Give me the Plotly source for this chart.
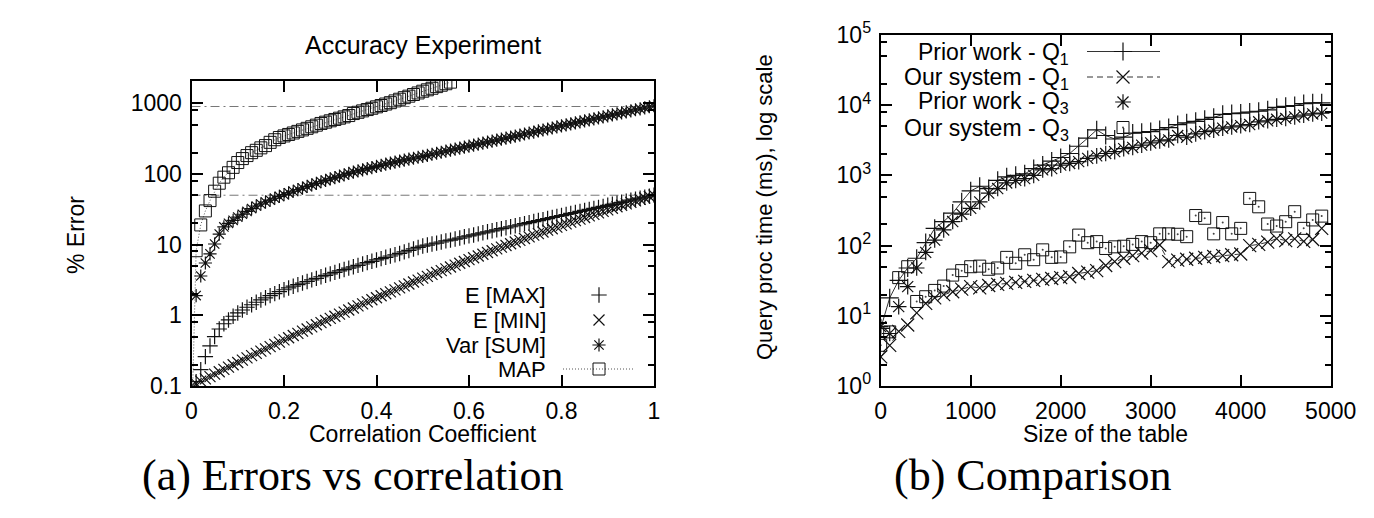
import plotly.graph_objects as go

W, H = 1374, 518
def px(x): return x / W
def py(y): return 1 - y / H

# ---------------- Left chart data (a) ----------------
CORR_MAX = [round(0.01 * i, 2) for i in range(1, 101)]
E_MAX = [0.115, 0.17, 0.26, 0.37, 0.5, 0.64, 0.76, 0.86, 0.97, 1.08,
         1.19, 1.3, 1.41, 1.53, 1.65, 1.77, 1.9, 2.03, 2.16, 2.3,
         2.44, 2.58, 2.72, 2.86, 3.01, 3.17, 3.33, 3.51, 3.68, 3.86,
         4.05, 4.24, 4.44, 4.65, 4.86, 5.09, 5.32, 5.56, 5.81, 6.07,
         6.34, 6.62, 6.9, 7.19, 7.5, 7.89, 8.28, 8.69, 9.12, 9.55,
         9.87, 10.2, 10.5, 10.9, 11.3, 11.6, 12.0, 12.4, 12.9, 13.3,
         13.7, 14.2, 14.7, 15.2, 15.7, 16.2, 16.8, 17.3, 17.9, 18.5,
         19.1, 19.8, 20.5, 21.2, 21.9, 22.6, 23.4, 24.2, 25.0, 25.8,
         26.7, 27.6, 28.5, 29.5, 30.5, 31.5, 32.6, 33.7, 34.8, 36.0,
         37.2, 38.5, 39.7, 41.1, 42.5, 43.9, 45.4, 46.9, 48.5, 50.1]

CORR_MIN = [round(0.01 * i, 2) for i in range(0, 101)]
E_MIN = [0.100,
         0.108, 0.117, 0.126, 0.136, 0.147, 0.159, 0.172, 0.185, 0.200, 0.215,
         0.232, 0.250, 0.269, 0.290, 0.312, 0.336, 0.361, 0.388, 0.418, 0.449,
         0.482, 0.518, 0.556, 0.597, 0.640, 0.687, 0.736, 0.789, 0.845, 0.906,
         0.970, 1.04, 1.11, 1.19, 1.27, 1.36, 1.45, 1.55, 1.66, 1.77,
         1.89, 2.02, 2.15, 2.29, 2.44, 2.61, 2.77, 2.96, 3.15, 3.35,
         3.56, 3.79, 4.03, 4.29, 4.55, 4.83, 5.14, 5.45, 5.78, 6.14,
         6.52, 6.90, 7.31, 7.74, 8.20, 8.69, 9.20, 9.73, 10.3, 10.9,
         11.5, 12.2, 12.9, 13.6, 14.3, 15.1, 16.0, 16.8, 17.7, 18.7,
         19.7, 20.8, 21.9, 23.0, 24.2, 25.5, 26.8, 28.2, 29.6, 31.1,
         32.7, 34.4, 36.1, 37.8, 39.6, 41.6, 43.6, 45.7, 47.9, 50.1]

CORR_VAR = [round(0.01 * i, 2) for i in range(1, 101)]
VAR_SUM = [1.9, 3.6, 5.5, 7.4, 10.2, 14.1, 17.8, 20.0, 22.1, 24.5,
           26.9, 29.5, 32.4, 35.2, 37.6, 40.1, 42.7, 45.3, 48.1, 50.9,
           54.0, 56.9, 60.0, 63.1, 66.5, 70.0, 73.6, 77.6, 81.3, 85.1,
           88.9, 92.9, 97.3, 101.6, 106.2, 110.2, 114.3, 118.6, 123.0, 127.6,
           132.4, 137.4, 142.2, 146.9, 151.7, 156.7, 161.8, 166.7, 172.2, 177.8,
           183.7, 190.1, 196.3, 202.8, 209.9, 216.8, 223.9, 231.2, 239.3, 247.2,
           255.3, 264.2, 272.9, 281.8, 291.7, 301.3, 311.2, 321.4, 332.7, 343.6,
           354.8, 367.3, 379.3, 391.7, 405.5, 418.8, 432.5, 446.7, 462.4, 477.5,
           493.2, 510.5, 527.2, 544.5, 562.3, 582.1, 601.2, 620.9, 642.7, 663.7,
           685.5, 709.6, 732.8, 756.8, 781.6, 809.1, 835.6, 863.0, 893.3, 922.5]

CORR_MAP = [round(0.01 * i, 2) for i in range(0, 57)]
MAP = [0.02, 8.2, 19, 30, 42, 57, 74, 90, 104, 124,
       145, 165, 182, 200, 216, 234, 252, 280, 305, 328,
       345, 362, 380, 400, 420, 442, 465, 490, 518, 540,
       565, 590, 615, 642, 670, 715, 745, 780, 815, 850,
       890, 930, 975, 1020, 1080, 1140, 1200, 1260, 1330, 1400,
       1480, 1550, 1630, 1720, 1800, 1890, 1990]

REF_LEVELS = [900, 50]

LEFT_XTICKS = [0, 0.2, 0.4, 0.6, 0.8, 1]
LEFT_XTEXT = ["0", "0.2", "0.4", "0.6", "0.8", "1"]
LEFT_YTICKS = [0.1, 1, 10, 100, 1000]
LEFT_YTEXT = ["0.1", "1", "10", "100", "1000"]
LEFT_YMINOR = [0.2, 0.5, 0.8, 2, 5, 8, 20, 50, 80, 200, 500, 800]

# ---------------- Right chart data (b) ----------------
SIZES = list(range(0, 5000, 100))
PRIOR_Q1 = [6.6, 18, 32, 48, 66, 110, 176, 220, 290, 420,
            600, 700, 650, 850, 950, 1000, 1050, 1250, 1400, 1600,
            1800, 2050, 2600, 3400, 4450, 3700, 3300, 3500, 4000, 4100,
            4200, 4500, 4800, 5300, 5600, 5900, 6300, 6700, 7400, 7600,
            7700, 8000, 8200, 8600, 9300, 9600, 9900, 10500, 10800, 10800]
OUR_Q1 = [2.6, 3.8, 6, 7.4, 11, 15, 18, 20, 22, 24,
          26, 25, 27, 28, 29, 30, 31, 32, 33, 34,
          35, 36, 40, 42, 44, 52, 59, 66, 72, 78,
          85, 102, 59, 62, 64, 66, 68, 70, 72, 74,
          76, 100, 104, 112, 126, 118, 125, 115, 122, 176]
PRIOR_Q3 = [7, 5.6, 13.5, 26, 48, 80, 120, 167, 220, 280,
            340, 420, 560, 650, 780, 850, 900, 1000, 1200, 1250,
            1400, 1480, 1570, 1750, 1900, 2050, 2180, 2400, 2500, 2700,
            2900, 3100, 3200, 3700, 3500, 3900, 4200, 4400, 4700, 4900,
            5100, 5300, 5800, 6000, 6300, 6500, 6800, 7200, 7500, 7700]
OUR_Q3 = [3.8, 5.9, 35, 50, 16, 18.7, 23, 26.5, 38, 44,
          50, 51, 46, 48, 68, 56, 74, 63, 87, 68,
          69, 96, 141, 110, 114, 91, 96, 98, 104, 114,
          110, 147, 147, 145, 134, 268, 245, 147, 213, 147,
          176, 470, 357, 203, 190, 219, 304, 176, 232, 263]

RIGHT_XTICKS = [0, 1000, 2000, 3000, 4000, 5000]
RIGHT_XTEXT = ["0", "1000", "2000", "3000", "4000", "5000"]
RIGHT_YTICKS = [1, 10, 100, 1000, 10000, 100000]
RIGHT_YTEXT = ["10<sup>0</sup>", "10<sup>1</sup>", "10<sup>2</sup>",
               "10<sup>3</sup>", "10<sup>4</sup>", "10<sup>5</sup>"]
RIGHT_YMINOR = [2, 5, 8, 20, 50, 80, 200, 500, 800, 2000, 5000, 8000, 20000, 50000, 80000]

FONT = "Liberation Sans"
INK = "#111111"

fig = go.Figure()

def mk(symbol, size, lw=1.2):
    return dict(symbol=symbol, size=size, color=INK, line=dict(color=INK, width=lw))

DOT = dict(symbol="circle", size=2, color="#444444", line=dict(width=0))

# left traces
for lvl in REF_LEVELS:
    fig.add_trace(go.Scatter(x=[0, 1], y=[lvl, lvl], mode="lines",
                             line=dict(color="#777777", width=1, dash="9px,4px,2px,4px"),
                             xaxis="x", yaxis="y", showlegend=False, hoverinfo="skip"))
fig.add_trace(go.Scatter(x=CORR_MAX, y=E_MAX, mode="markers", marker=mk("cross-thin-open", 11),
                         xaxis="x", yaxis="y", showlegend=False))
fig.add_trace(go.Scatter(x=CORR_MIN, y=E_MIN, mode="markers", marker=mk("x-thin-open", 11),
                         xaxis="x", yaxis="y", showlegend=False))
fig.add_trace(go.Scatter(x=CORR_VAR, y=VAR_SUM, mode="markers", marker=mk("asterisk-open", 11),
                         xaxis="x", yaxis="y", showlegend=False))
fig.add_trace(go.Scatter(x=CORR_MAP, y=MAP, mode="lines+markers",
                         line=dict(color="#555555", width=1, dash="1px,2px"),
                         marker=mk("square-open", 12, 1), xaxis="x", yaxis="y", showlegend=False))

# right traces
fig.add_trace(go.Scatter(x=SIZES, y=PRIOR_Q1, mode="lines+markers",
                         line=dict(color="#333333", width=1),
                         marker=mk("cross-thin-open", 13), xaxis="x2", yaxis="y2", showlegend=False))
fig.add_trace(go.Scatter(x=SIZES, y=OUR_Q1, mode="lines+markers",
                         line=dict(color="#333333", width=1, dash="6px,4px"),
                         marker=mk("x-thin-open", 13), xaxis="x2", yaxis="y2", showlegend=False))
fig.add_trace(go.Scatter(x=SIZES, y=PRIOR_Q3, mode="markers",
                         marker=mk("asterisk-open", 13), xaxis="x2", yaxis="y2", showlegend=False))
fig.add_trace(go.Scatter(x=SIZES, y=OUR_Q3, mode="markers",
                         marker=mk("square-open", 12, 1), xaxis="x2", yaxis="y2", showlegend=False))
fig.add_trace(go.Scatter(x=SIZES, y=OUR_Q3, mode="markers", marker=DOT,
                         xaxis="x2", yaxis="y2", showlegend=False, hoverinfo="skip"))

# legend samples (pixel overlay)
def samp(xs, ys, mode, marker=None, line=None):
    fig.add_trace(go.Scatter(x=xs, y=ys, mode=mode, marker=marker, line=line,
                             xaxis="x3", yaxis="y3", showlegend=False, hoverinfo="skip"))

samp([599], [295], "markers", mk("cross-thin-open", 11))
samp([599], [320], "markers", mk("x-thin-open", 11))
samp([599], [345], "markers", mk("asterisk-open", 11))
samp([563, 633], [369, 369], "lines", line=dict(color="#555555", width=1, dash="1px,2px"))
samp([599], [369], "markers", mk("square-open", 12, 1))

samp([1087, 1160], [51.5, 51.5], "lines", line=dict(color="#333333", width=1))
samp([1123], [51.5], "markers", mk("cross-thin-open", 13))
samp([1087, 1160], [77, 77], "lines", line=dict(color="#333333", width=1, dash="6px,4px"))
samp([1123], [77], "markers", mk("x-thin-open", 13))
samp([1123], [102], "markers", mk("asterisk-open", 13))
samp([1123], [127.5], "markers", mk("square-open", 12, 1))
samp([1123], [127.5], "markers", DOT)

tickfont = dict(family=FONT, size=23, color="black")
common = dict(showline=True, linecolor="black", linewidth=2, mirror="ticks",
              ticks="inside", ticklen=11, tickwidth=1.5, tickcolor="black",
              showgrid=False, zeroline=False, tickfont=tickfont, ticklabelstandoff=3,
              automargin=False)

fig.update_layout(
    template="none",
    width=W, height=H, autosize=False,
    margin=dict(l=0, r=0, t=0, b=0, pad=0, autoexpand=False),
    paper_bgcolor="white", plot_bgcolor="rgba(0,0,0,0)",
    showlegend=False,
    xaxis=dict(domain=[px(191.5), px(654)], range=[0, 1], anchor="y",
               tickvals=LEFT_XTICKS, ticktext=LEFT_XTEXT, **common),
    yaxis=dict(domain=[py(386), py(81)], type="log", range=[-1, 3.315], anchor="x",
               tickvals=LEFT_YTICKS, ticktext=LEFT_YTEXT,
               minor=dict(tickvals=LEFT_YMINOR, ticks="inside", ticklen=6, tickwidth=1.5, tickcolor="black"),
               **common),
    xaxis2=dict(domain=[px(880.7), px(1330.7)], range=[0, 5000], anchor="y2",
                tickvals=RIGHT_XTICKS, ticktext=RIGHT_XTEXT, **common),
    yaxis2=dict(domain=[py(386), py(35)], type="log", range=[0, 5], anchor="x2",
                tickvals=RIGHT_YTICKS, ticktext=RIGHT_YTEXT,
                minor=dict(tickvals=RIGHT_YMINOR, ticks="inside", ticklen=6, tickwidth=1.5, tickcolor="black"),
                **common),
    xaxis3=dict(domain=[0, 1], range=[0, W], anchor="y3", visible=False, fixedrange=True, automargin=False),
    yaxis3=dict(domain=[0, 1], range=[H, 0], anchor="x3", visible=False, fixedrange=True, automargin=False),
)

def ann(text, x, y, size=22, xanchor="center", yanchor="middle", angle=0, family=FONT):
    fig.add_annotation(text=text, x=px(x), y=py(y), xref="paper", yref="paper",
                       xanchor=xanchor, yanchor=yanchor, showarrow=False, textangle=angle,
                       borderpad=0, font=dict(family=family, size=size, color="black"))

ann("Accuracy Experiment", 422.8, 45, size=25)
ann("% Error", 76, 235, size=23, angle=-90)
ann("Correlation Coefficient", 422.8, 434, size=23)
ann("Query proc time (ms), log scale", 764, 207, size=22, angle=-90)
ann("Size of the table", 1105.7, 434, size=23)

ann("E [MAX]", 547, 295, xanchor="right")
ann("E [MIN]", 547, 320, xanchor="right")
ann("Var [SUM]", 547, 345, xanchor="right")
ann("MAP", 547, 369, xanchor="right")

ann("Prior work - Q<sub>1</sub>", 1070, 53, xanchor="right", size=23)
ann("Our system - Q<sub>1</sub>", 1070, 78, xanchor="right", size=23)
ann("Prior work - Q<sub>3</sub>", 1070, 103, xanchor="right", size=23)
ann("Our system - Q<sub>3</sub>", 1070, 129, xanchor="right", size=23)

ann("(a) Errors vs correlation", 352, 475, size=44, family="Liberation Serif")
ann("(b) Comparison", 1032, 475, size=44, family="Liberation Serif")

fig.write_html("out.html", config={"displayModeBar": False},
               post_script="document.body.style.margin='0px';")
